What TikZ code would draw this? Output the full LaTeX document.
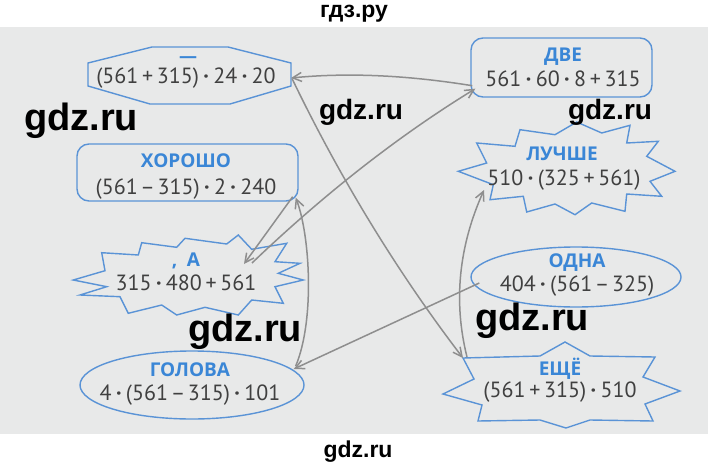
\documentclass[tikz,border=0pt]{standalone}
\usepackage{fontspec}
\setmainfont{PT Sans}
\newfontfamily\labfont{Open Sans}
\newfontfamily\wmfont{Liberation Sans}
\usetikzlibrary{arrows.meta,calc,shapes.geometric}
\definecolor{bgc}{HTML}{E8E9E9}
\definecolor{boxc}{HTML}{5A93D6}
\definecolor{labc}{HTML}{3A86D6}
\definecolor{txtc}{HTML}{404040}
\definecolor{arrc}{HTML}{8E8E8E}
\newcommand{\md}{\hspace{0.2em}\textbf{·}\hspace{0.2em}}
\newcommand{\mn}{\hspace{0.12em}–\hspace{0.12em}}
\begin{document}
\begin{tikzpicture}[x=1pt,y=-1pt,
  frame/.style={draw=boxc, line width=1.4pt},
  lab/.style={text=labc, font=\labfont\fontsize{19}{19}\selectfont\bfseries, inner sep=0pt, anchor=base},
  frm/.style={text=txtc, font=\fontsize{22}{22}\selectfont, inner sep=0pt, anchor=base},
  rbox/.style={frame, rounded corners=12pt, inner sep=0pt},
  ebox/.style={frame, ellipse, inner sep=0pt},
  hull/.style={inner sep=0pt, outer sep=0pt},
  conn/.style={draw=arrc, line width=1.5pt, -{Straight Barb[length=9pt,width=9pt]}},
  wmbig/.style={font=\wmfont\fontsize{38}{38}\selectfont\bfseries, text=black, anchor=base, inner sep=0pt},
  wmsmall/.style={font=\wmfont\fontsize{28}{28}\selectfont\bfseries, text=black, anchor=base, inner sep=0pt},
  wmtiny/.style={font=\wmfont\fontsize{23}{23}\selectfont\bfseries, text=black, anchor=base, inner sep=0pt}
]
\useasboundingbox (0,0) rectangle (708,468);
\fill[bgc] (0,27) rectangle (708,434);

% ---------- octagon (dash) ----------
\draw[frame] (152,47) -- (228,47) -- (291,63) -- (291,86) -- (230,104) -- (150,104) -- (88,86) -- (88,63) -- cycle;
\node[hull, minimum width=203pt, minimum height=57pt] (oct) at (189.5,75.5) {};
\node[lab, font=\labfont\fontsize{18}{18}\selectfont\bfseries] (octL) at (188,63) {—};
\node[frm] (octF) at (186,84) {(561\,+\,315)\md 24\md 20};

% ---------- ХОРОШО ----------
\node[rbox, minimum width=221pt, minimum height=57pt] (horosho) at (187.5,172.5) {};
\node[lab] (horoshoL) at (186,167) {ХОРОШО};
\node[frm] (horoshoF) at (186,194) {(561\mn 315)\md 2\md 240};

% ---------- , А (star) ----------
\draw[frame] (73.3,280) -- (105,270.7) -- (101.7,252.7) -- (138.3,255) -- (141.7,242.7) -- (176.7,247.3)
  -- (185,238.3) -- (226.7,244) -- (238.3,235) -- (251.7,249.3) -- (286.7,243.3) -- (275,261.7)
  -- (300,263.3) -- (278.3,273.3) -- (303.3,280) -- (275,286.7) -- (283.3,303.3) -- (251.7,300)
  -- (238.3,315) -- (205,307.3) -- (176.7,315) -- (161.7,305) -- (128.3,313.3) -- (120,296.7)
  -- (80,295) -- (106.7,286.7) -- cycle;
\node[hull, minimum width=230pt, minimum height=80pt] (a) at (188,275) {};
\node[lab] (aL) at (186,266) {,\hspace{0.5em}А};
\node[frm] (aF) at (186,290) {315\md 480\,+\,561};

% ---------- ГОЛОВА ----------
\node[ebox, minimum width=224pt, minimum height=68pt] (golova) at (192,385) {};
\node[lab] (golovaL) at (190,376) {ГОЛОВА};
\node[frm] (golovaF) at (190,400) {4\md(561\mn 315)\md 101};

% ---------- ДВЕ ----------
\node[rbox, minimum width=181pt, minimum height=59pt] (dve) at (561.5,67.5) {};
\node[lab] (dveL) at (563,62) {ДВЕ};
\node[frm] (dveF) at (563,87) {561\md 60\md 8\,+\,315};

% ---------- ЛУЧШЕ (star) ----------
\draw[frame] (458.3,171.3) -- (486.7,163) -- (476.7,143) -- (515,146.3) -- (520,129.7) -- (555,134.7)
  -- (576.7,122) -- (601.7,133) -- (630,125.3) -- (626.7,143) -- (658.3,141.3) -- (646.7,156.3)
  -- (675,171.3) -- (650,181.3) -- (661.7,196.3) -- (626.7,194) -- (625,211.3) -- (591.7,203)
  -- (575,214.7) -- (555,204) -- (526.7,212) -- (523.3,196.3) -- (490,199.7) -- (493.3,184.7) -- cycle;
\node[hull, minimum width=217pt, minimum height=93pt] (luchshe) at (566.5,168.5) {};
\node[lab] (luchsheL) at (562,160) {ЛУЧШЕ};
\node[frm] (luchsheF) at (564,185) {510\md(325\,+\,561)};

% ---------- ОДНА ----------
\node[ebox, minimum width=210pt, minimum height=60pt] (odna) at (576,277) {};
\node[lab] (odnaL) at (577,267) {ОДНА};
\node[frm] (odnaF) at (577,291) {404\md(561\mn 325)};

% ---------- ЕЩЁ (star) ----------
\draw[frame] (463,358) -- (540,356) -- (565,342) -- (590,356) -- (655,357) -- (643,377) -- (680,391)
  -- (645,404) -- (653,421) -- (590,420) -- (566,428) -- (540,420) -- (478,421) -- (482,405)
  -- (443,394) -- (474,379) -- cycle;
\node[hull, minimum width=237pt, minimum height=86pt] (eshe) at (561.5,385) {};
\node[lab] (esheL) at (560,375) {ЕЩЁ};
\node[frm] (esheF) at (560,397) {(561\,+\,315)\md 510};

% ---------- connectors ----------
\draw[conn] ($(odna.west)+(9,6)$) -- ($(golova.east)+(-11,-16)$);
\draw[conn] ($(golova.east)+(-9,-19)$) .. controls (315,320) and (310,235) .. ($(horosho.south east)+(-3,-4)$);
\draw[conn] ($(horosho.south east)+(-6,-5)$) -- ($(a.center)+(56,-11)$);
\draw[conn] ($(a.center)+(64,-12)$) .. controls (321,197) and (395,138) .. ($(dve.south west)+(5,-9)$);
\draw[conn] ($(dve.south west)+(2,-12)$) .. controls (412,76) and (352,72) .. ($(oct.east)+(0,2.5)$);
\draw[conn] ($(oct.east)+(1,3)$) .. controls (339.5,177) and (396.5,271) .. ($(eshe.north west)+(20,16)$);
\draw[conn] ($(eshe.north west)+(24,15)$) .. controls (453,301) and (459,246) .. ($(luchshe.south west)+(26,-25)$);

% ---------- watermarks ----------
\node[wmtiny] (wtop) at (354,18) {гдз.ру};
\node[wmbig] (w1) at (81,130) {gdz.ru};
\node[wmsmall] (w2) at (361,119) {gdz.ru};
\node[wmsmall] (w3) at (610,119) {gdz.ru};
\node[wmbig] (w4) at (245,341) {gdz.ru};
\node[wmbig] (w5) at (532,330) {gdz.ru};
\node[wmtiny] (wbot) at (358,457) {gdz.ru};
\end{tikzpicture}
\end{document}
